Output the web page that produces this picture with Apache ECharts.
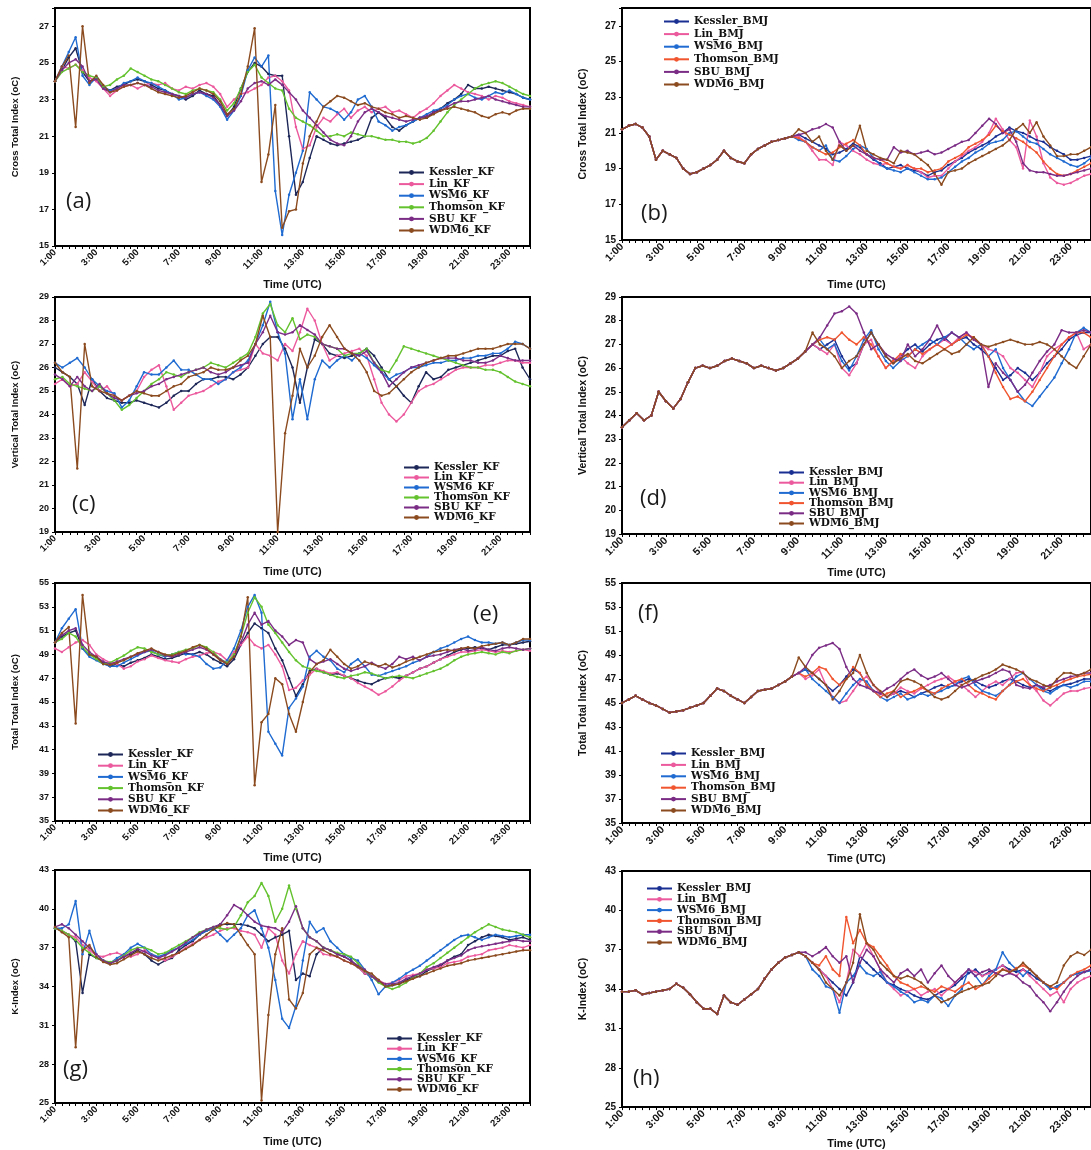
<!DOCTYPE html>
<html>
<head>
<meta charset="utf-8">
<script src="https://cdn.jsdelivr.net/npm/echarts@6.0.0/dist/echarts.min.js"></script>
<style>
  html, body { margin: 0; padding: 0; background: #ffffff; }
  #chart { width: 1091px; height: 1150px; }
</style>
</head>
<body>
<div id="chart"></div>
<script>
// Microphysics schemes compared in every panel
const MODELS = ['Kessler', 'Lin', 'WSM6', 'Thomson', 'SBU', 'WDM6'];
const KF_COLORS  = ['#1d2758', '#ec5a9e', '#1f6bd1', '#63c22e', '#7b2d86', '#8b4b1f'];
const BMJ_COLORS = ['#1a2f92', '#ec5a9e', '#1f6bd1', '#f0552f', '#7b2d86', '#8b4b1f'];

// 20-minute time steps, given in minutes after 00:00
function timeLabels(lastMinute) {
  const out = [];
  for (let m = 60; m <= lastMinute; m += 20) {
    out.push(Math.floor(m / 60) + ':' + String(m % 60).padStart(2, '0'));
  }
  return out;
}
const TIMES_24 = timeLabels(1440); // 1:00 .. 24:00
const TIMES_22 = timeLabels(1340); // 1:00 .. 22:20

// (a) Cross Totals, KF cumulus
const aKessler = [24.0,24.6,25.3, 25.8,24.5,24.0, 24.2,23.6,23.5, 23.7,23.8,24.0, 24.1,24.0,23.8, 23.6,23.5,23.3, 23.2,23.0,23.2, 23.5,23.3,23.2, 22.7,22.1,22.6, 23.6,24.5,25.0, 24.8,24.4,24.3, 24.3,21.0,17.8, 18.5,19.8,21.0, 20.8,20.6,20.5, 20.6,20.7,20.8, 21.0,22.0,22.3, 22.0,21.5,21.3, 21.6,21.8,22.0, 22.0,22.3,22.5, 22.8,23.0,23.3, 23.8,23.6,23.6, 23.7,23.6,23.5, 23.4,23.3,23.1, 23.0];
const aLin     = [24.0,24.8,24.7, 24.9,24.6,24.2, 24.0,23.6,23.2, 23.5,23.7,23.8, 23.6,23.8,23.9, 23.8,23.9,23.6, 23.5,23.7,23.6, 23.8,23.9,23.7, 23.3,22.6,23.0, 23.3,23.4,23.6, 23.8,24.2,24.3, 24.0,23.5,21.5, 20.3,20.5,21.5, 22.0,21.8,22.2, 22.5,22.0,22.4, 22.6,22.3,22.5, 22.6,22.3,22.4, 22.2,22.0,22.3, 22.5,22.8,23.2, 23.5,23.8,23.6, 23.4,23.3,23.2, 23.0,23.2,23.1, 22.9,22.8,22.7, 22.6];
const aWSM6    = [24.0,24.8,25.6, 26.4,24.3,23.8, 24.2,23.7,23.5, 23.6,23.9,24.0, 24.2,24.0,23.9, 23.7,23.5,23.3, 23.0,23.1,23.3, 23.4,23.2,23.0, 22.6,21.9,22.4, 23.2,24.6,25.3, 24.8,25.4,18.0, 15.6,17.8,19.0, 20.2,23.4,23.0, 22.6,22.5,22.3, 21.9,22.3,23.0, 23.2,22.6,21.8, 21.6,21.3,21.5, 21.6,21.8,22.0, 22.2,22.4,22.5, 22.7,23.0,23.2, 23.3,23.1,23.0, 23.2,23.4,23.3, 23.5,23.3,23.1, 23.0];
const aThomson = [24.0,24.5,24.7, 24.9,24.5,24.3, 24.2,23.7,23.8, 24.1,24.3,24.7, 24.5,24.3,24.1, 24.0,23.8,23.6, 23.4,23.3,23.5, 23.6,23.5,23.4, 23.0,22.4,22.8, 23.6,24.5,24.9, 24.2,23.9,23.6, 23.5,22.5,22.0, 21.8,21.6,21.3, 21.0,21.0,21.1, 21.0,21.2,21.1, 21.0,21.0,20.9, 20.8,20.8,20.7, 20.7,20.6,20.7, 20.9,21.3,21.8, 22.3,22.7,23.0, 23.3,23.6,23.8, 23.9,24.0,23.9, 23.7,23.5,23.3, 23.2];
const aSBU     = [24.0,24.6,25.0, 25.2,24.8,24.0, 24.1,23.6,23.4, 23.6,23.8,23.8, 23.9,23.8,23.7, 23.5,23.4,23.3, 23.2,23.1,23.3, 23.4,23.3,23.1, 22.7,22.1,22.4, 22.9,23.6,23.9, 24.0,23.8,24.1, 23.8,23.4,23.0, 22.4,22.0,21.6, 21.2,20.8,20.6, 20.5,21.0,21.8, 22.3,22.5,22.3, 22.1,22.0,21.9, 21.8,21.9,22.0, 22.1,22.3,22.4, 22.6,22.8,22.9, 22.9,23.0,23.1, 23.2,23.0,22.9, 22.8,22.7,22.6, 22.6];
const aWDM6    = [24.0,24.8,25.4, 21.5,27.0,23.9, 24.3,23.8,23.4, 23.5,23.7,23.8, 23.9,23.8,23.6, 23.4,23.3,23.2, 23.1,23.2,23.4, 23.6,23.5,23.3, 22.9,22.2,22.5, 23.3,24.8,26.9, 18.5,20.0,22.7, 16.0,16.9,17.0, 19.5,21.0,21.8, 22.6,22.9,23.2, 23.1,22.9,22.7, 22.8,22.6,22.5, 22.3,22.2,22.0, 22.1,22.0,21.9, 22.0,22.2,22.4, 22.5,22.6,22.5, 22.4,22.3,22.1, 22.0,22.2,22.3, 22.2,22.4,22.5, 22.5];

// (b) Cross Totals, BMJ cumulus: shared run until 9:20, then each scheme from 9:40
const bShared   = [21.2,21.4,21.5, 21.3,20.8,19.5, 20.0,19.8,19.6, 19.0,18.7,18.8, 19.0,19.2,19.5, 20.0,19.6,19.4, 19.3,19.8,20.1, 20.3,20.5,20.6, 20.7,20.8];
const bKessler  = [20.9, 20.7,20.5,20.3, 20.1,19.8,19.9, 20.1,20.4,20.2, 19.8,19.5,19.3, 19.0,19.1,19.2, 19.0,18.9,18.8, 18.6,18.8,18.9, 19.2,19.4,19.6, 19.9,20.1,20.3, 20.5,20.8,21.0, 21.3,21.1,21.0, 20.8,20.6,20.5, 20.2,20.0,19.8, 19.5,19.5,19.6, 19.7];
const bLin      = [20.8, 20.5,20.0,19.5, 19.5,19.2,20.5, 20.3,20.0,19.8, 19.5,19.3,19.2, 19.3,19.1,19.0, 19.2,19.0,18.8, 18.5,18.6,18.6, 19.0,19.4,19.7, 20.0,20.2,20.5, 21.0,21.8,21.2, 20.6,20.2,19.0, 21.7,20.8,19.3, 18.5,18.2,18.1, 18.2,18.4,18.6, 18.7];
const bWSM6     = [20.6, 20.5,20.2,20.0, 20.3,19.5,19.4, 19.7,20.1,20.3, 20.1,19.6,19.2, 19.0,18.9,18.8, 19.0,18.8,18.6, 18.4,18.4,18.5, 18.8,19.1,19.4, 19.6,19.9,20.1, 20.4,20.5,20.6, 21.0,21.1,20.8, 20.5,20.4,20.1, 19.8,19.6,19.4, 19.2,19.1,19.3, 19.6];
const bThomson  = [20.7, 20.5,20.2,20.0, 19.8,19.9,20.2, 20.4,20.6,20.3, 19.8,19.6,19.5, 19.3,19.1,19.0, 19.2,19.0,19.0, 18.8,18.9,19.0, 19.4,19.6,19.8, 20.2,20.4,20.6, 20.9,21.4,21.1, 20.9,20.7,20.5, 20.2,19.9,19.4, 19.0,18.7,18.6, 18.7,18.9,19.1, 19.3];
const bSBU      = [20.9, 21.0,21.2,21.3, 21.5,21.3,20.5, 20.0,20.3,20.0, 19.8,19.6,19.5, 19.5,20.2,19.9, 20.0,19.8,19.9, 20.0,19.8,19.9, 20.1,20.3,20.5, 20.6,21.0,21.4, 21.8,21.5,21.0, 21.2,20.5,19.3, 18.9,18.8,18.8, 18.7,18.6,18.6, 18.7,18.8,18.9, 19.0];
const bWDM6     = [21.2, 21.0,20.5,20.8, 20.0,19.5,20.3, 20.0,20.3,21.4, 20.0,19.8,19.6, 19.5,19.3,20.0, 19.9,19.8,19.5, 19.2,18.7,18.1, 18.8,18.9,19.0, 19.3,19.5,19.7, 19.9,20.1,20.3, 20.6,21.2,21.5, 21.0,21.6,20.8, 20.3,19.7,19.7, 19.8,19.8,20.0, 20.2];

// (c) Vertical Totals, KF cumulus (1:00 .. 22:20)
const cKessler = [26.0,25.8,25.6, 25.3,24.4,25.5, 25.0,24.7,24.6, 24.5,24.5,24.6, 24.5,24.4,24.3, 24.5,24.8,25.0, 25.0,25.3,25.5, 25.5,25.6,25.6, 25.5,25.7,26.0, 26.5,27.0,27.3, 27.3,26.8,26.0, 24.5,26.0,27.2, 27.0,26.6,26.5, 26.4,26.5,26.6, 26.8,26.5,26.0, 25.5,25.2,24.8, 24.5,25.2,25.8, 25.5,25.6,25.9, 26.0,26.1,26.2, 26.3,26.4,26.5, 26.5,26.7,26.8, 26.0,25.5];
const cLin     = [25.3,25.5,25.2, 25.3,25.8,25.4, 25.0,25.2,24.8, 24.6,24.8,25.0, 25.6,25.9,26.1, 25.2,24.2,24.5, 24.8,24.9,25.0, 25.2,25.4,25.5, 25.8,25.9,26.0, 27.0,26.6,26.5, 26.3,27.0,26.7, 27.5,28.5,28.0, 27.0,26.3,26.5, 26.6,26.7,26.8, 26.5,25.5,24.5, 24.0,23.7,24.0, 24.5,25.0,25.2, 25.3,25.5,25.7, 25.9,26.0,26.0, 26.0,26.1,26.1, 26.2,26.3,26.3, 26.2,26.2];
const cWSM6    = [26.2,26.0,26.2, 26.4,26.0,25.5, 25.2,25.0,24.9, 24.3,24.6,25.2, 25.8,25.7,25.7, 26.0,26.3,25.9, 25.9,25.7,25.5, 25.5,25.3,25.5, 25.8,26.0,26.3, 27.0,27.8,28.8, 27.5,26.6,23.8, 25.5,23.8,25.5, 26.3,26.0,26.3, 26.5,26.3,26.6, 26.4,26.1,25.8, 25.5,25.7,25.8, 26.0,26.0,26.1, 26.2,26.2,26.3, 26.3,26.4,26.4, 26.5,26.5,26.6, 26.6,26.8,27.1, 27.0,26.8];
const cThomson = [25.5,25.6,25.3, 25.2,25.1,25.0, 25.2,24.9,24.6, 24.2,24.4,24.7, 25.0,25.3,25.5, 25.8,25.7,25.6, 25.8,25.9,26.0, 26.2,26.1,26.0, 26.2,26.4,26.6, 27.3,28.3,28.7, 27.8,27.5,28.1, 27.2,27.4,27.3, 27.0,26.9,26.8, 26.5,26.6,26.6, 26.8,26.2,25.9, 25.8,26.3,26.9, 26.8,26.7,26.6, 26.5,26.4,26.3, 26.2,26.1,26.0, 26.0,25.9,25.9, 25.8,25.6,25.4, 25.3,25.2];
const cSBU     = [25.7,25.5,25.2, 25.6,25.2,25.0, 25.3,24.9,24.7, 24.6,24.8,24.9, 25.0,25.2,25.3, 25.5,25.6,25.7, 25.8,25.9,26.0, 25.8,25.7,25.8, 26.0,26.1,26.2, 27.0,27.5,28.2, 27.5,27.4,27.5, 27.8,27.6,27.4, 27.0,26.9,26.8, 26.8,26.6,26.5, 26.7,26.2,25.8, 25.2,25.5,25.8, 26.0,26.1,26.2, 26.3,26.4,26.4, 26.4,26.3,26.3, 26.2,26.2,26.3, 26.5,26.4,26.3, 26.3,26.3];
const cWDM6    = [26.2,25.8,25.6, 21.7,27.0,25.2, 25.0,24.9,24.8, 24.6,24.8,25.0, 24.9,24.8,24.8, 25.0,25.2,25.3, 25.6,25.7,25.8, 26.0,25.9,25.9, 26.0,26.3,26.5, 27.0,28.2,27.3, 19.0,23.2,24.8, 26.8,26.0,26.5, 27.3,27.8,27.3, 26.8,26.6,26.3, 25.8,25.0,24.8, 24.9,25.2,25.5, 25.8,26.0,26.2, 26.3,26.4,26.5, 26.5,26.6,26.7, 26.8,26.8,26.8, 26.9,27.0,27.0, 27.0,26.8];

// (d) Vertical Totals, BMJ cumulus (1:00 .. 22:20)
const dShared   = [23.5,23.8,24.1, 23.8,24.0,25.0, 24.6,24.3,24.7, 25.4,26.0,26.1, 26.0,26.1,26.3, 26.4,26.3,26.2, 26.0,26.1,26.0, 25.9,26.0,26.2, 26.4,26.7];
const dKessler  = [27.0, 26.8,27.0,27.2, 26.5,26.0,26.2, 27.0,27.5,27.0, 26.5,26.2,26.5, 26.8,27.0,26.7, 27.0,27.2,27.3, 27.0,27.2,27.3, 27.0,26.8,26.5, 26.0,25.5,25.7, 26.0,25.8,25.5, 25.8,26.2,26.5, 26.8,27.2,27.4, 27.5,27.5];
const dLin      = [27.0, 26.8,26.6,27.0, 26.0,25.7,26.2, 27.0,27.2,26.5, 26.0,26.3,26.5, 26.2,26.0,26.5, 26.8,27.0,27.2, 27.0,27.3,27.5, 27.2,27.0,26.8, 26.7,26.5,26.0, 25.8,25.5,25.2, 25.8,26.5,26.8, 27.0,27.3,27.5, 26.8,27.0];
const dWSM6     = [27.0, 27.2,26.8,27.0, 26.3,25.9,26.5, 27.2,27.6,26.8, 26.3,26.0,26.3, 26.5,26.8,27.0, 27.2,27.0,27.3, 27.5,27.3,27.0, 26.8,27.0,26.5, 26.8,26.0,25.5, 25.0,24.6,24.4, 24.8,25.2,25.6, 26.2,26.8,27.5, 27.7,27.5];
const dThomson  = [27.0, 27.2,27.3,27.2, 27.5,27.2,27.0, 27.3,27.0,26.5, 26.0,26.3,26.6, 26.5,26.8,26.6, 26.8,27.0,26.8, 27.0,27.2,27.4, 27.3,27.0,26.5, 25.8,25.2,24.7, 24.8,24.6,25.0, 25.5,26.0,26.5, 27.0,27.3,27.5, 27.5,27.3];
const dSBU      = [27.0, 27.3,27.8,28.3, 28.4,28.6,28.3, 27.5,26.8,27.0, 26.6,26.4,26.3, 27.0,26.5,26.8, 27.2,27.8,27.2, 27.5,27.3,27.5, 27.2,27.0,25.2, 26.2,25.8,25.5, 25.0,25.3,25.8, 26.3,26.7,27.0, 27.6,27.5,27.5, 27.6,27.5];
const dWDM6     = [27.5, 27.0,26.8,26.5, 26.0,26.3,26.5, 27.0,27.5,27.0, 26.5,26.2,26.4, 26.6,26.3,26.2, 26.4,26.6,26.8, 26.6,26.7,27.0, 27.3,27.0,26.9, 27.0,27.1,27.2, 27.1,27.0,27.0, 27.1,27.0,26.8, 26.5,26.2,26.0, 26.5,27.0];

// (e) Total Totals, KF cumulus
const eKessler = [50.0,50.5,50.8, 51.0,49.5,49.0, 48.8,48.3,48.0, 48.2,48.0,48.3, 48.5,48.7,49.0, 48.8,48.6,48.7, 48.9,49.1,49.0, 49.2,49.0,48.6, 48.3,48.0,48.6, 49.8,50.8,51.6, 51.2,50.8,49.5, 48.5,47.0,45.5, 46.5,47.6,47.8, 47.5,47.3,47.4, 47.2,47.0,46.8, 46.6,46.5,46.8, 47.0,47.1,47.0, 47.2,47.5,47.8, 48.0,48.3,48.6, 48.9,49.2,49.4, 49.5,49.6,49.5, 49.4,49.6,49.8, 49.8,49.9,50.0, 50.1];
const eLin     = [49.5,49.2,49.6, 50.0,50.2,49.8, 49.0,48.6,48.3, 48.2,47.8,48.0, 48.4,48.6,48.9, 48.7,48.5,48.4, 48.3,48.6,48.8, 48.9,49.1,49.2, 49.0,48.5,49.2, 49.8,50.5,49.8, 49.5,49.8,49.0, 48.0,46.0,46.2, 46.8,47.3,47.8, 47.6,47.4,47.5, 47.2,47.0,46.6, 46.3,46.0,45.6, 45.9,46.3,46.8, 47.2,47.5,47.8, 48.0,48.3,48.6, 48.8,49.0,49.2, 49.2,49.3,49.4, 49.3,49.2,49.3, 49.2,49.3,49.4, 49.3];
const eWSM6    = [50.0,51.2,52.0, 52.8,49.5,48.8, 48.5,48.2,48.0, 48.0,48.3,48.6, 48.9,49.2,49.3, 49.0,48.8,49.0, 49.2,49.0,49.0, 48.8,48.2,47.8, 47.9,48.5,49.5, 51.0,53.0,54.0, 52.5,42.5,41.5, 40.5,44.5,45.3, 46.3,48.8,49.3, 48.8,48.5,47.8, 47.5,48.2,48.6, 48.0,47.3,47.2, 47.4,47.6,47.8, 48.0,48.3,48.5, 48.8,49.2,49.5, 49.7,50.0,50.3, 50.5,50.2,50.0, 50.0,49.9,50.0, 49.8,50.0,50.2, 50.2];
const eThomson = [50.0,50.3,50.8, 50.5,49.6,49.0, 48.6,48.2,48.3, 48.6,48.9,49.3, 49.6,49.5,49.2, 49.0,48.9,49.0, 49.2,49.4,49.5, 49.8,49.6,49.2, 48.6,48.3,49.0, 50.5,52.5,53.8, 53.0,51.5,50.8, 50.0,49.2,48.5, 48.0,47.8,47.6, 47.5,47.3,47.1, 47.0,47.2,47.3, 47.5,47.4,47.2, 47.0,47.1,47.2, 47.1,47.0,47.2, 47.4,47.6,47.8, 48.1,48.5,48.8, 49.0,49.1,49.2, 49.1,49.0,49.2, 49.1,49.3,49.4, 49.5];
const eSBU     = [50.0,50.6,51.0, 51.2,49.8,49.2, 48.8,48.4,48.2, 48.4,48.6,48.8, 49.0,49.2,49.4, 49.2,48.9,48.8, 49.0,49.2,49.4, 49.6,49.4,49.0, 48.6,48.2,48.8, 50.0,51.5,52.5, 51.5,51.8,51.0, 50.5,49.8,50.2, 50.0,48.6,48.2, 48.4,48.6,48.2, 47.8,47.6,47.8, 48.0,48.3,48.0, 47.8,48.2,48.8, 48.6,48.8,48.5, 48.8,48.9,49.0, 49.2,49.4,49.5, 49.3,49.4,49.6, 49.4,49.3,49.5, 49.6,49.5,49.4, 49.5];
const eWDM6    = [50.0,50.8,51.3, 43.2,54.0,49.0, 48.8,48.2,48.1, 48.3,48.5,48.8, 49.1,49.3,49.5, 49.2,49.0,48.9, 49.1,49.3,49.6, 49.8,49.5,49.0, 48.5,48.2,48.8, 50.5,53.8,38.0, 43.3,44.0,47.0, 46.5,44.0,42.5, 45.0,47.5,48.2, 48.5,49.4,48.8, 48.2,47.8,48.0, 48.4,48.2,48.0, 48.2,47.9,48.1, 48.4,48.6,48.8, 49.0,49.2,49.3, 49.4,49.3,49.5, 49.6,49.5,49.7, 49.8,49.9,50.0, 49.8,50.0,50.3, 50.3];

// (f) Total Totals, BMJ cumulus
const fShared   = [45.0,45.3,45.6, 45.3,45.0,44.8, 44.5,44.2,44.3, 44.4,44.6,44.8, 45.0,45.6,46.2, 46.0,45.6,45.3, 45.0,45.5,46.0, 46.1,46.2,46.5, 46.8,47.2];
const fKessler  = [47.5, 47.8,47.5,47.0, 46.5,46.0,46.5, 47.2,47.8,47.5, 46.5,46.0,45.8, 45.5,45.8,46.0, 45.8,45.5,45.8, 46.0,46.3,46.5, 46.3,46.5,46.8, 47.0,46.8,46.5, 46.3,46.5,46.8, 47.0,46.8,46.5, 46.3,46.5,46.2, 46.0,46.3,46.5, 46.6,46.8,47.0, 47.0];
const fLin      = [47.5, 47.0,47.3,47.8, 46.5,45.5,45.0, 45.2,46.0,46.8, 47.2,46.5,45.8, 45.5,45.8,46.3, 46.0,45.8,46.2, 46.5,46.8,47.0, 47.2,46.8,46.5, 46.0,45.5,46.0, 46.5,46.8,46.5, 47.0,47.5,47.6, 46.5,46.0,45.2, 44.8,45.3,45.8, 46.0,46.0,46.2, 46.3];
const fWSM6     = [47.5, 47.8,47.0,46.5, 46.0,45.5,45.0, 45.8,46.5,47.0, 46.8,46.0,45.5, 45.2,45.5,45.8, 45.3,45.5,45.8, 45.6,45.8,46.0, 46.3,46.5,47.0, 47.2,46.5,46.0, 45.8,45.6,46.0, 46.5,47.2,47.5, 47.0,46.5,46.0, 45.8,46.2,46.5, 46.3,46.5,46.8, 46.8];
const fThomson  = [47.5, 47.2,47.5,48.0, 47.8,47.0,46.5, 47.0,48.0,47.5, 46.5,46.0,45.5, 45.8,46.0,45.5, 45.8,46.0,46.3, 46.0,45.8,46.2, 46.5,46.8,47.0, 46.5,46.0,45.8, 45.5,45.3,46.0, 46.5,46.8,47.0, 46.5,46.2,46.0, 46.3,46.5,46.8, 47.0,47.2,47.3, 47.4];
const fSBU      = [47.5, 48.0,49.0,49.6, 49.8,50.0,49.5, 48.0,47.0,46.5, 46.3,46.0,45.8, 46.2,46.5,47.0, 47.5,47.8,47.3, 47.0,47.2,47.5, 47.0,46.5,46.3, 46.5,46.8,47.0, 47.2,47.5,47.8, 47.6,46.5,46.3, 46.2,46.5,46.3, 46.5,46.8,47.0, 47.2,47.3,47.5, 47.5];
const fWDM6     = [48.8, 48.0,47.5,47.0, 46.5,45.3,46.0, 47.0,47.5,49.0, 47.5,46.5,46.0, 45.5,46.0,46.8, 47.0,46.8,46.5, 46.0,45.5,45.3, 45.5,46.0,46.5, 46.8,47.0,47.3, 47.5,47.8,48.2, 48.0,47.8,47.5, 47.0,46.8,46.5, 46.3,47.0,47.5, 47.5,47.3,47.5, 47.8];

// (g) K-index, KF cumulus
const gKessler = [38.5,38.3,38.0, 37.5,33.5,36.5, 36.2,36.0,35.8, 36.0,36.3,36.5, 36.8,36.5,36.0, 35.7,36.0,36.2, 36.8,37.2,37.5, 38.0,38.3,38.5, 38.8,38.8,38.8, 38.8,38.7,38.5, 38.0,37.5,37.8, 38.0,38.3,34.5, 35.0,34.8,36.5, 37.0,36.8,36.5, 36.3,36.0,35.5, 35.0,34.8,34.5, 34.0,34.1,34.2, 34.5,34.7,34.8, 35.2,35.4,35.6, 36.0,36.3,36.5, 37.2,37.5,37.8, 38.0,37.9,37.8, 37.6,37.7,37.8, 37.6];
const gLin     = [38.5,38.3,38.0, 37.8,37.2,36.8, 36.4,36.3,36.5, 36.6,36.4,36.3, 36.5,36.8,36.5, 36.2,36.0,36.3, 36.6,37.0,37.3, 37.6,37.8,38.0, 38.3,38.5,38.5, 38.3,38.2,38.0, 37.0,38.5,38.0, 36.0,35.0,36.5, 37.5,37.2,37.0, 36.5,36.4,36.3, 36.0,35.8,35.5, 35.0,34.8,34.5, 34.2,34.3,34.5, 34.8,34.9,35.0, 35.3,35.4,35.5, 35.8,35.9,36.0, 36.3,36.4,36.5, 36.8,36.9,37.0, 37.2,37.1,37.0, 37.2];
const gWSM6    = [38.5,38.5,38.8, 40.6,36.5,38.3, 36.5,36.0,35.8, 36.2,36.5,37.0, 37.3,37.0,36.5, 36.3,36.5,36.8, 37.0,37.3,37.6, 38.0,38.3,38.5, 38.0,37.5,38.0, 38.5,39.5,39.9, 38.5,37.0,34.5, 31.5,30.8,32.5, 36.0,39.0,38.2, 38.5,37.5,37.0, 36.5,36.2,36.0, 35.3,34.5,33.4, 34.0,34.3,34.6, 35.0,35.3,35.6, 36.0,36.4,36.8, 37.2,37.6,37.9, 38.0,37.8,37.6, 37.8,38.0,37.9, 37.8,37.9,38.0, 38.0];
const gThomson = [38.5,38.3,38.0, 37.6,37.0,36.6, 36.2,36.0,35.9, 36.0,36.4,36.8, 37.0,37.0,36.8, 36.5,36.6,36.9, 37.2,37.5,37.8, 38.2,38.4,38.6, 38.5,38.4,38.6, 39.5,40.5,41.0, 42.0,41.0,39.0, 40.0,41.8,40.0, 38.5,37.8,37.5, 37.0,36.8,36.6, 36.5,36.3,35.8, 35.2,34.8,34.3, 34.0,33.8,34.0, 34.3,34.7,35.0, 35.5,35.8,36.2, 36.6,37.0,37.4, 37.8,38.2,38.5, 38.8,38.6,38.4, 38.3,38.2,38.0, 37.8];
const gSBU     = [38.6,38.8,38.5, 38.0,37.5,37.0, 36.5,36.0,35.8, 36.0,36.3,36.6, 36.9,36.7,36.4, 36.2,36.4,36.7, 37.0,37.4,37.8, 38.1,38.4,38.6, 38.8,39.5,40.3, 40.0,39.5,39.0, 38.7,38.6,38.5, 38.2,39.0,40.2, 38.5,37.8,37.5, 37.0,36.8,36.5, 36.3,36.0,35.6, 35.3,34.8,34.4, 34.2,34.2,34.3, 34.6,34.8,35.0, 35.3,35.5,35.7, 36.0,36.2,36.4, 36.8,37.0,37.1, 37.2,37.3,37.4, 37.5,37.6,37.5, 37.5];
const gWDM6    = [38.6,38.2,37.8, 29.3,36.8,37.2, 36.3,35.9,35.7, 35.8,36.1,36.4, 36.7,36.5,36.2, 36.0,36.2,36.4, 36.6,36.9,37.2, 37.6,38.0,38.4, 38.7,38.9,38.8, 38.0,37.2,36.5, 25.2,31.8,36.5, 38.5,33.0,32.3, 33.5,36.5,37.0, 36.8,36.5,36.3, 36.0,35.8,35.5, 35.2,35.0,34.5, 34.0,34.1,34.2, 34.4,34.6,34.8, 35.0,35.2,35.4, 35.6,35.7,35.8, 36.0,36.1,36.2, 36.3,36.4,36.5, 36.6,36.7,36.8, 36.8];

// (h) K-index, BMJ cumulus
const hShared   = [33.8,33.8,33.9, 33.6,33.7,33.8, 33.9,34.0,34.4, 34.1,33.6,33.0, 32.5,32.5,32.1, 33.5,33.0,32.8, 33.2,33.6,34.0, 34.8,35.5,36.0, 36.4,36.6];
const hKessler  = [36.8, 36.5,36.0,35.5, 35.0,34.5,34.0, 33.5,34.5,36.5, 36.0,35.5,35.0, 34.5,34.3,34.0, 33.8,33.5,33.3, 33.2,33.5,33.8, 34.0,34.3,34.8, 35.2,35.5,35.0, 35.3,35.5,35.8, 35.5,35.3,35.5, 35.2,34.8,34.5, 34.0,34.2,34.5, 35.0,35.2,35.3, 35.5];
const hLin      = [36.8, 36.5,36.0,35.5, 35.0,34.0,33.0, 34.5,37.0,36.5, 37.5,36.5,35.5, 34.5,34.0,33.5, 33.8,34.0,33.5, 33.8,34.0,33.5, 34.0,34.5,35.0, 35.5,35.3,35.0, 35.2,35.5,35.8, 35.3,35.0,35.5, 35.0,34.5,34.0, 33.5,33.8,33.0, 34.0,34.5,34.8, 35.0];
const hWSM6     = [36.8, 36.5,35.5,35.0, 34.2,34.0,32.2, 34.5,35.0,35.8, 35.2,35.0,35.3, 34.5,34.2,33.8, 33.5,33.0,33.2, 33.0,33.5,33.3, 32.7,33.5,34.0, 35.5,35.0,34.3, 35.0,35.5,36.8, 36.0,35.5,35.0, 35.5,35.0,34.5, 34.0,34.2,34.5, 35.0,35.2,35.3, 35.4];
const hThomson  = [36.8, 36.5,36.0,35.8, 36.5,35.5,35.0, 39.5,37.5,38.5, 37.5,37.2,36.5, 35.8,35.0,34.5, 34.3,34.0,34.2, 34.0,33.8,34.2, 34.0,33.8,34.2, 34.5,34.0,34.3, 34.8,35.2,35.5, 35.3,35.6,35.8, 35.5,35.0,34.5, 34.2,34.0,34.5, 35.0,35.3,35.5, 35.8];
const hSBU      = [36.8, 36.8,36.5,36.8, 37.2,36.5,36.0, 36.5,34.5,36.0, 37.0,36.5,35.5, 35.0,34.5,35.2, 35.5,35.0,35.5, 34.5,35.2,35.8, 35.0,34.5,35.0, 35.5,35.0,35.3, 35.5,35.2,35.0, 35.2,35.0,34.5, 34.2,33.5,33.0, 32.3,33.0,33.8, 34.5,35.0,35.3, 35.5];
const hWDM6     = [36.8, 36.5,36.0,35.5, 34.5,34.0,33.5, 34.5,36.0,39.7, 37.5,37.0,36.0, 35.5,35.0,34.8, 35.0,34.8,34.5, 34.0,33.5,33.0, 33.2,33.5,33.8, 34.0,34.2,34.3, 34.5,35.0,35.5, 35.3,35.5,36.0, 35.5,35.0,34.5, 34.2,34.5,35.8, 36.5,36.8,36.6, 37.0];

const joinRun = (shared, tail) => shared.concat(tail);

const panels = [
  { scheme: 'KF', yName: 'Cross Total Index (oC)', min: 15, max: 28, step: 2, times: TIMES_24,
    series: [aKessler, aLin, aWSM6, aThomson, aSBU, aWDM6],
    grid: { left: 55, top: 8, width: 475, height: 238 }, xGap: 33,
    legend: { left: 398, top: 167, pitch: 11.8 }, letter: { text: '(a)', left: 66, top: 191 } },
  { scheme: 'BMJ', yName: 'Cross Total Index (oC)', min: 15, max: 28, step: 2, times: TIMES_24,
    series: [bKessler, bLin, bWSM6, bThomson, bSBU, bWDM6].map(t => joinRun(bShared, t)),
    grid: { left: 622, top: 8, width: 473, height: 232 }, xGap: 39,
    legend: { left: 663, top: 16, pitch: 12.8 }, letter: { text: '(b)', left: 641, top: 203 } },
  { scheme: 'KF', yName: 'Vertical Total Index (oC)', min: 19, max: 29, step: 1, times: TIMES_22,
    series: [cKessler, cLin, cWSM6, cThomson, cSBU, cWDM6],
    grid: { left: 55, top: 297, width: 475, height: 235 }, xGap: 34,
    legend: { left: 403, top: 462, pitch: 10.2 }, letter: { text: '(c)', left: 72, top: 494 } },
  { scheme: 'BMJ', yName: 'Vertical Total Index (oC)', min: 19, max: 29, step: 1, times: TIMES_22,
    series: [dKessler, dLin, dWSM6, dThomson, dSBU, dWDM6].map(t => joinRun(dShared, t)),
    grid: { left: 622, top: 297, width: 473, height: 237 }, xGap: 33,
    legend: { left: 778, top: 467, pitch: 10.4 }, letter: { text: '(d)', left: 640, top: 488 } },
  { scheme: 'KF', yName: 'Total Total Index (oC)', min: 35, max: 55, step: 2, times: TIMES_24,
    series: [eKessler, eLin, eWSM6, eThomson, eSBU, eWDM6],
    grid: { left: 55, top: 583, width: 475, height: 238 }, xGap: 31,
    legend: { left: 97, top: 749, pitch: 11.4 }, letter: { text: '(e)', left: 473, top: 604 } },
  { scheme: 'BMJ', yName: 'Total Total Index (oC)', min: 35, max: 55, step: 2, times: TIMES_24,
    series: [fKessler, fLin, fWSM6, fThomson, fSBU, fWDM6].map(t => joinRun(fShared, t)),
    grid: { left: 622, top: 583, width: 473, height: 240 }, xGap: 29,
    legend: { left: 660, top: 748, pitch: 11.6 }, letter: { text: '(f)', left: 638, top: 603 } },
  { scheme: 'KF', yName: 'K-Index (oC)', min: 25, max: 43, step: 3, times: TIMES_24,
    series: [gKessler, gLin, gWSM6, gThomson, gSBU, gWDM6],
    grid: { left: 55, top: 870, width: 475, height: 233 }, xGap: 33,
    legend: { left: 386, top: 1033, pitch: 10.4 }, letter: { text: '(g)', left: 63, top: 1059 } },
  { scheme: 'BMJ', yName: 'K-Index (oC)', min: 25, max: 43, step: 3, times: TIMES_24,
    series: [hKessler, hLin, hWSM6, hThomson, hSBU, hWDM6].map(t => joinRun(hShared, t)),
    grid: { left: 622, top: 871, width: 473, height: 238 }, xGap: 28,
    legend: { left: 646, top: 883, pitch: 11.0 }, letter: { text: '(h)', left: 633, top: 1068 } }
];

// measured height of one legend row; the gap makes up the rest of the pitch
const LEGEND_ROW = 11.2;

const option = {
  animation: false,
  backgroundColor: '#ffffff',
  grid: [], xAxis: [], yAxis: [], series: [], legend: [], title: []
};

panels.forEach((p, i) => {
  const rightCol = p.grid.left > 500;
  const colors = p.scheme === 'KF' ? KF_COLORS : BMJ_COLORS;
  const names = MODELS.map(m => m + '_' + p.scheme);

  option.grid.push(Object.assign({
    show: true, borderColor: '#000', borderWidth: 2, backgroundColor: 'transparent'
  }, p.grid));

  option.xAxis.push({
    type: 'category', gridIndex: i, data: p.times, boundaryGap: false,
    name: 'Time (UTC)', nameLocation: 'middle', nameGap: p.xGap,
    nameTextStyle: { fontFamily: 'Liberation Sans', fontWeight: 'bold', fontSize: 11, color: '#111' },
    axisLine: { show: true, lineStyle: { color: '#000', width: 2 } },
    axisTick: { show: true, interval: 0, length: 3, lineStyle: { color: '#000', width: 1 } },
    axisLabel: { interval: 5, rotate: 45, margin: 5, fontFamily: 'Liberation Sans',
                 fontWeight: 'bold', fontSize: rightCol ? 10.5 : 9.5, color: '#111' },
    splitLine: { show: false }
  });

  option.yAxis.push({
    type: 'value', gridIndex: i, min: p.min, max: p.max, interval: p.step,
    name: p.yName, nameLocation: 'middle', nameGap: rightCol ? 33 : 35,
    nameTextStyle: { fontFamily: 'Liberation Sans', fontWeight: 'bold',
                     fontSize: rightCol ? 10.5 : 9.5, color: '#111' },
    axisLine: { show: true, lineStyle: { color: '#000', width: 2 } },
    axisTick: { show: true, length: 3, lineStyle: { color: '#000' } },
    axisLabel: { margin: 6, fontFamily: 'Liberation Sans', fontWeight: 'bold',
                 fontSize: rightCol ? 10 : 9, color: '#111',
                 formatter: v => ((v - p.min) % p.step === 0 ? String(v) : '') },
    splitLine: { show: false }
  });

  p.series.forEach((values, s) => {
    option.series.push({
      type: 'line', name: names[s], xAxisIndex: i, yAxisIndex: i, data: values,
      symbol: 'circle', symbolSize: 2.5, showSymbol: true, showAllSymbol: true,
      lineStyle: { width: 1.4, color: colors[s] }, itemStyle: { color: colors[s] },
      emphasis: { disabled: true }, silent: true
    });
  });

  option.legend.push({
    data: names, orient: 'vertical', left: p.legend.left, top: p.legend.top,
    itemWidth: 25, itemHeight: 6, itemGap: p.legend.pitch - LEGEND_ROW,
    padding: 0, selectedMode: false,
    textStyle: { fontFamily: 'DejaVu Serif', fontWeight: 'bold', fontSize: 10.5, color: '#111' }
  });

  option.title.push({
    text: p.letter.text, left: p.letter.left, top: p.letter.top, padding: 0,
    textStyle: { fontFamily: 'Open Sans', fontWeight: 'normal', fontSize: 22, color: '#1a1a1a' }
  });
});

const chart = echarts.init(document.getElementById('chart'), null, { renderer: 'canvas' });
chart.setOption(option);
</script>
</body>
</html>
